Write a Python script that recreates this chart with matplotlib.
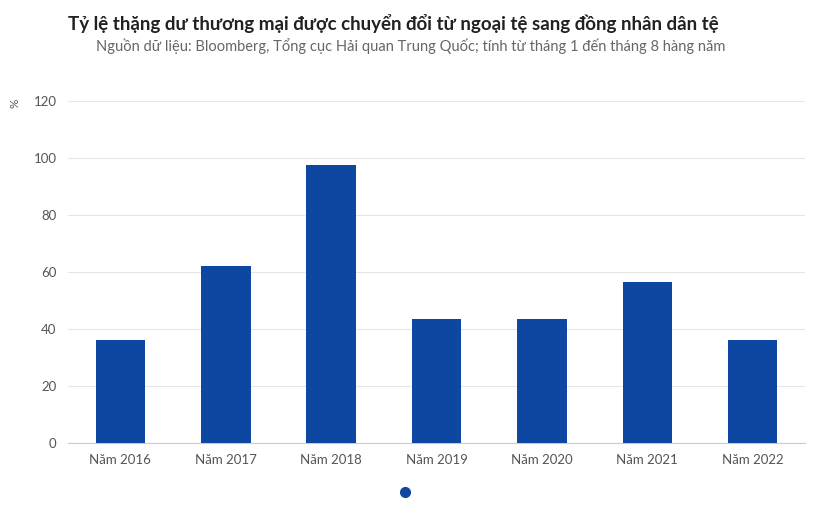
import matplotlib.pyplot as plt
from matplotlib.lines import Line2D

years = ['Năm 2016', 'Năm 2017', 'Năm 2018', 'Năm 2019', 'Năm 2020', 'Năm 2021', 'Năm 2022']
ratio = [36, 62, 97.5, 43.5, 43.5, 56.5, 36]

plt.rcParams['font.family'] = ['Lato', 'DejaVu Sans']

fig = plt.figure(figsize=(8.16, 5.12), dpi=100)
ax = fig.add_axes([0.083, 0.135, 0.904, 0.668])
ax.bar(years, ratio, width=0.47, color='#0d47a1', zorder=3)
ax.set_ylim(0, 120)
ax.set_yticks(range(0, 121, 20))
ax.set_xlim(-0.5, len(years) - 0.5)
ax.grid(axis='y', color='#e6e6e6', linewidth=0.8, zorder=0)
for s in ['top', 'right', 'left']:
    ax.spines[s].set_visible(False)
ax.spines['bottom'].set_color('#cccccc')
ax.tick_params(axis='both', length=0, labelsize=9.5, colors='#555555', pad=8)

# unit label
fig.text(15 / 816, 1 - 103 / 512, '%', fontsize=8.5, color='#555555', rotation=90,
         ha='center', va='center')

fig.text(0.083, 0.955, 'Tỷ lệ thặng dư thương mại được chuyển đổi từ ngoại tệ sang đồng nhân dân tệ',
         fontsize=13.5, fontweight='bold', color='#222222', va='center')
fig.text(0.118, 0.91, 'Nguồn dữ liệu: Bloomberg, Tổng cục Hải quan Trung Quốc; tính từ tháng 1 đến tháng 8 hàng năm',
         fontsize=10.5, color='#666666', va='center')
fig.add_artist(Line2D([405 / 816], [1 - 492 / 512], marker='o', markersize=7,
                      color='#0d47a1', transform=fig.transFigure))

fig.savefig('out.png', dpi=100)
